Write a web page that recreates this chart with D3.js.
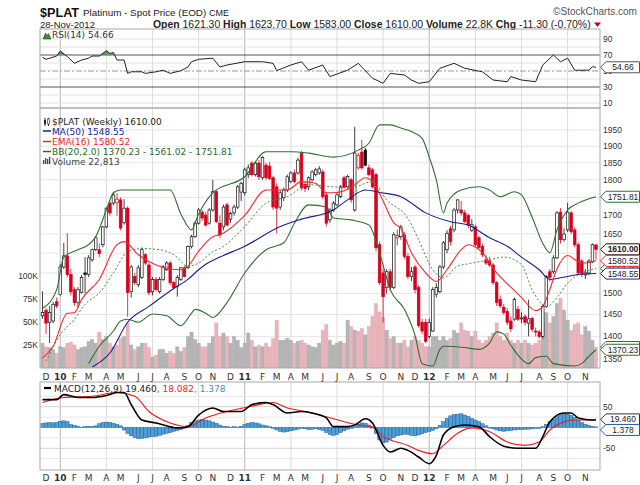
<!DOCTYPE html>
<html><head><meta charset="utf-8">
<script src="https://cdn.jsdelivr.net/npm/d3@7"></script>
<style>body{margin:0;background:#fff}svg{display:block}</style>
</head><body>
<svg id="c" width="640" height="485"></svg>
<script>
// ---------- DATA (weekly, first week = 30-Nov-2009) ----------
const firstWeek = "2009-11-30";
const opens = [1447,1460,1432,1435,1480,1497,1565,1593,1546,1509,1478,1502,1550,1546,1583,1609,1609,1622,1669,1734,1734,1735,1743,1680,1720,1504,1541,1521,1539,1596,1570,1504,1534,1504,1534,1558,1575,1526,1517,1534,1563,1563,1617,1643,1679,1709,1701,1679,1715,1766,1679,1669,1729,1690,1707,1723,1765,1763,1815,1849,1815,1849,1806,1843,1840,1806,1780,1723,1749,1771,1795,1820,1820,1879,1787,1780,1800,1815,1820,1823,1757,1688,1715,1729,1752,1806,1780,1800,1715,1835,1882,1888,1835,1829,1815,1622,1550,1514,1553,1514,1640,1643,1648,1592,1541,1565,1514,1432,1432,1400,1412,1497,1504,1565,1609,1664,1661,1715,1715,1707,1700,1660,1669,1640,1617,1583,1580,1570,1526,1485,1467,1457,1435,1439,1462,1440,1445,1430,1441,1412,1410,1400,1469,1553,1553,1588,1709,1635,1661,1707,1661,1622,1580,1545,1550,1578,1621.3];
const highs = [1505,1465,1470,1480,1490,1572,1627,1652,1560,1515,1515,1545,1590,1595,1612,1645,1625,1672,1722,1740,1766,1763,1750,1745,1725,1570,1550,1570,1615,1600,1575,1540,1540,1540,1570,1580,1580,1530,1545,1565,1568,1620,1648,1685,1720,1715,1710,1720,1800,1770,1700,1730,1735,1710,1730,1785,1795,1835,1845,1855,1855,1858,1870,1850,1852,1812,1790,1770,1778,1815,1825,1830,1865,1885,1795,1810,1828,1835,1840,1830,1765,1720,1740,1762,1785,1812,1815,1805,1960,1880,1919,1895,1845,1835,1820,1630,1560,1560,1560,1655,1662,1675,1655,1600,1565,1570,1520,1440,1440,1440,1515,1525,1570,1632,1660,1672,1720,1745,1740,1715,1705,1690,1675,1645,1625,1595,1590,1575,1530,1495,1475,1465,1445,1490,1470,1455,1450,1485,1445,1420,1415,1475,1545,1560,1595,1712,1720,1665,1735,1712,1668,1628,1585,1560,1585,1625,1623.7];
const lows = [1440,1405,1385,1430,1465,1495,1560,1540,1495,1470,1465,1500,1500,1540,1578,1605,1590,1615,1665,1700,1728,1700,1660,1675,1445,1490,1520,1515,1535,1570,1495,1495,1505,1500,1530,1555,1520,1510,1492,1530,1540,1560,1612,1640,1675,1685,1670,1675,1710,1680,1640,1660,1670,1680,1700,1718,1740,1755,1805,1810,1810,1800,1800,1800,1800,1715,1652,1715,1740,1765,1790,1790,1815,1770,1765,1770,1795,1810,1815,1745,1670,1680,1710,1725,1748,1775,1775,1735,1710,1830,1830,1840,1810,1775,1605,1520,1432,1500,1505,1510,1620,1635,1585,1535,1530,1500,1420,1405,1385,1395,1410,1490,1500,1560,1600,1620,1655,1705,1700,1680,1665,1655,1615,1610,1590,1570,1565,1520,1470,1465,1450,1425,1410,1435,1435,1430,1425,1400,1410,1400,1395,1395,1465,1530,1548,1585,1625,1630,1655,1650,1615,1545,1540,1535,1545,1575,1583];
const closes = [1455,1430,1455,1474,1470,1565,1593,1546,1504,1478,1509,1539,1546,1588,1609,1640,1599,1669,1720,1707,1757,1745,1666,1720,1502,1565,1526,1563,1609,1575,1502,1534,1509,1534,1565,1575,1526,1514,1539,1563,1541,1617,1643,1679,1715,1693,1674,1715,1766,1683,1648,1723,1674,1705,1723,1780,1790,1829,1835,1815,1849,1809,1866,1806,1804,1723,1720,1763,1771,1809,1820,1795,1858,1777,1775,1806,1823,1829,1832,1752,1679,1715,1734,1757,1780,1778,1810,1743,1879,1872,1835,1843,1815,1780,1614,1526,1492,1553,1514,1648,1646,1669,1592,1541,1553,1509,1425,1412,1389,1432,1509,1514,1565,1627,1652,1630,1715,1743,1707,1683,1674,1675,1622,1615,1596,1575,1570,1526,1478,1470,1455,1432,1417,1485,1439,1442,1432,1440,1416,1410,1400,1469,1541,1539,1588,1707,1635,1650,1709,1656,1622,1550,1548,1550,1580,1622,1610];
// volume in thousands
const volumes = [27,23,22,20,16,23,22,27,28,25,20,22,23,29,31,27,39,31,34,27,23,25,32,34,49,
25,20,23,27,27,22,12,14,20,20,16,18,16,23,18,22,34,39,31,27,
23,23,27,34,49,34,38,34,27,34,30,22,27,38,30,23,25,23,27,23,32,52,30,30,32,30,27,29,30,27,25,23,22,27,41,47,30,25,27,29,27,52,45,41,40,43,36,45,56,70,
61,55,41,32,34,27,27,30,23,30,34,30,27,23,23,34,34,30,34,30,32,41,38,49,41,40,34,40,30,27,30,34,38,49,34,30,38,30,27,30,27,30,27,25,27,30,
49,60,49,56,70,76,63,52,41,47,49,36,45,40,30,22.813];

// indicator readings (week index, value)
const maIdx  = [14,19,24,30,37,41,44,46,50,57,67,73,82,86,91,95,101,108,115,120,126,131,135,140,143,146,151,156];
const maVal  = [1333,1363,1432,1469,1512,1534,1558,1572,1590,1618,1670,1690,1715,1743,1771,1764,1752,1707,1683,1674,1640,1618,1590,1558,1534,1538,1546,1548.55];
const emaIdx = [0,3,7,9,11,16,21,23,27,32,39,41,44,48,50,57,63,69,73,77,80,82,87,91,93,96,99,101,104,108,111,114,118,120,124,128,132,135,139,141,143,145,148,151,153,156];
const emaVal = [1352,1378,1453,1454,1485,1534,1622,1630,1596,1570,1558,1567,1605,1643,1648,1700,1771,1771,1795,1790,1763,1763,1777,1806,1795,1740,1680,1665,1601,1550,1529,1558,1609,1622,1601,1550,1515,1490,1459,1469,1510,1560,1594,1578,1575,1580.52];
const bbUpIdx = [0,4,6,10,13,15,18,20,22,27,36,39,42,44,48,57,63,70,75,82,89,92,95,98,101,104,107,109,111,113,114,118,123,126,129,133,135,138,141,143,145,148,151,156];
const bbUpVal = [1464,1509,1590,1609,1622,1643,1715,1763,1771,1771,1771,1704,1661,1704,1763,1809,1883,1883,1879,1867,1888,1909,1966,1966,1956,1945,1924,1867,1800,1707,1734,1771,1780,1771,1752,1766,1757,1695,1626,1601,1661,1715,1734,1751.81];
const bbLoIdx = [13,16,20,22,24,27,31,35,39,42,43,46,48,52,57,63,68,71,75,80,82,87,92,95,98,102,105,107,110,112,113,119,123,126,128,130,132,135,137,139,142,144,150,152,154,156];
const bbLoVal = [1340,1378,1412,1435,1439,1432,1451,1447,1424,1453,1462,1453,1443,1478,1550,1609,1627,1679,1729,1723,1693,1688,1674,1601,1509,1462,1402,1340,1335,1371,1378,1375,1371,1385,1410,1405,1380,1350,1340,1353,1356,1340,1335,1340,1356,1370.23];
const bbMidIdx = [1,5,9,12,16,20,24,28,33,37,41,44,48,50,57,63,69,75,82,87,93,97,103,106,110,113,117,120,126,130,135,138,142,145,148,152,156];
const bbMidVal = [1345,1404,1439,1474,1501,1550,1604,1612,1609,1596,1567,1575,1604,1612,1670,1734,1752,1786,1780,1777,1795,1743,1692,1635,1558,1538,1567,1573,1583,1590,1571,1509,1469,1490,1525,1550,1561.02];
const rsiIdx = [0,1,4,5,7,9,11,13,14,16,18,19,20,21,23,24,25,28,29,32,34,36,39,41,42,44,48,50,52,57,62,65,66,70,73,75,79,81,86,89,93,96,98,102,104,106,109,112,116,119,124,127,131,132,135,139,141,142,144,146,148,150,154,155,156];
const rsiVal = [67,64.6,68.7,75,68,59.6,63.7,66,68.7,68.7,75.4,72,73,63.7,63.7,47,49,49,47,49,51,47,50.4,55,61.6,64.6,66,55,57.5,61.6,61.6,59.6,50.4,57.5,61.6,51,57.5,43,51,59.6,41,34.6,47,45,38.7,34.6,36.6,53.4,59.6,53.4,49,38.7,36.6,43,38.7,36.6,57.5,61.6,70,61.6,66,51,51,55.4,54.66];
const macdIdx = [0,4,6,10,14,18,21,23,25,28,32,38,41,44,48,51,56,59,63,65,69,73,76,80,82,86,88,91,93,96,98,101,103,106,109,111,113,116,119,123,126,130,134,139,141,143,147,149,151,155,156];
const macdVal = [67,67,79,72,72,77,84,84,55,18,11,-1,2,30,47,38.5,38.5,55,60,55,35,38.5,35,23,2,2,6,21,11,-43,-59,-50,-55,-71,-87,-67,-18,2,6,2,-22,-45,-50,-50,-22,14,35,35,23,18,19.46];
const sigIdx = [0,6,14,21,26,30,36,41,46,52,59,65,69,74,80,85,89,93,96,98,103,106,110,113,117,121,126,131,136,140,143,147,150,156];
const sigVal = [60,72,75,84,75,38.5,11,2,23,38.5,51,60,47,38.5,26,14,6,2,-22,-30,-43,-55,-63,-43,-14,-1,-10,-35,-43,-35,-6,14,18,18.082];
const hist = [10,11,12,11,12, 15,16,14, 7,5,3, 1,2,3,2,4, 9,12,13,12,10,7, 4, -6,-14,-20,-24, -27,-26,-25, -23,-22,-21,-19, -16,-14,-12,-9,-7, -5,-2,
5,12,16,18,19,18,16,13,10, 6,3,2,1,2,1,3, 7,10,12,11,9,6,4, 2,-2, -6,-9,-11,-10,-8,-6, -4,-2,-3,-5,-4,-3,-5,-7,
-12,-17,-19,-17,-12,-8, -4,-2,2, 8,11,10,6, 0, -14,-30,-37,-35,-28, -24,-20,-18,-16,-17, -19,-20,-18,-15,-12,-10, -7,-3,
5,14,22,28,31,32, 33,30,26,22, 18,14,9,4,0, -3,-6,-8,-9,-8,-7,-6, -5,-5,-4,-4,-3, -2,-2,2, 8,14,20, 26,31,33,32,29, 24,18,12,8, 5,3,1.378];
const priceTicks = [1350,1400,1450,1500,1550,1600,1650,1700,1750,1800,1850,1900,1950];
const priceTicksHidden = [1550,1600,1750]; // covered by value tags in the reference
const volTicks = [25,50,75,100];
const volTickLabels = ["25K","50K","75K","100K"];
const rsiTicks = [10,30,50,70,90];
const macdTicks = [-50,50];
const monthLetters = ["J","F","M","A","M","J","J","A","S","O","N","D"];

// ---------- LAYOUT ----------
const svg = d3.select("#c");
const L = 40, R = 600;
const rsiP = [29,108], mainP = [108,368], macdP = [382,470];
const F = "'DejaVu Sans', Verdana, sans-serif";
const FA = "'Liberation Sans', Arial, sans-serif";
const FN = "'Liberation Sans Narrow','Arial Narrow','Liberation Sans',Arial,sans-serif";
const RED = "#d8001e", BLK = "#111";

const n = closes.length;
const t0 = d3.timeParse("%Y-%m-%d")(firstWeek);
const dates = d3.range(n).map(i => d3.timeDay.offset(t0, 7*i));
const xs = d3.scaleLinear().domain([0, n-1]).range([42.5, 596]);
const yP = d3.scaleLog().domain([1350,1950]).range([359,130]);
const yV = d3.scaleLinear().domain([0,100]).range([368,276]);
const yR = d3.scaleLinear().domain([30,70]).range([87,55]);
const yM = d3.scaleLinear().domain([-50,50]).range([448.3,406.7]);

const mStarts = [];
for (let i=1;i<n;i++) if (dates[i].getMonth()!==dates[i-1].getMonth()) mStarts.push(i);

const defs = svg.append("defs");
function clip(id, y0, y1){ defs.append("clipPath").attr("id",id).append("rect").attr("x",L).attr("y",y0).attr("width",R-L).attr("height",y1-y0); }
clip("cr", rsiP[0], rsiP[1]); clip("cm", mainP[0], mainP[1]); clip("cd", macdP[0], macdP[1]);
defs.append("clipPath").attr("id","c70").append("rect").attr("x",L).attr("y",rsiP[0]).attr("width",R-L).attr("height",yR(70)-rsiP[0]);

function vgrid(y0,y1){
  mStarts.filter(i=>dates[i].getMonth()%3===0).forEach(i=>{
    svg.append("line").attr("x1",xs(i)).attr("x2",xs(i)).attr("y1",y0).attr("y2",y1)
      .attr("stroke", dates[i].getMonth()===0 ? "#b5b5b5" : "#dcdcdc").attr("stroke-width",1);
  });
}
function hline(y,color,dash){ const l=svg.append("line").attr("x1",L).attr("x2",R).attr("y1",y).attr("y2",y).attr("stroke",color).attr("stroke-width",1); if(dash) l.attr("stroke-dasharray",dash); return l; }

// ---------- HEADER ----------
function fit(sel, w){ const node=sel.node(); const len=node.getComputedTextLength(); if(len>0){ const fs=parseFloat(sel.attr("font-size")); sel.attr("font-size", fs*w/len); } }
const h1 = svg.append("text").attr("x",40).attr("y",17).attr("font-family",FN).attr("font-size",16).attr("font-weight","bold").attr("fill","#111").text("$PLAT");
fit(h1, 39);
const h2 = svg.append("text").attr("x",83).attr("y",16).attr("font-family",FN).attr("font-size",11).attr("fill","#222");
h2.append("tspan").text("Platinum  - Spot Price (EOD) ");
h2.append("tspan").attr("font-size",9).text("CME");
fit(h2, 144);
const h3 = svg.append("text").attr("x",637).attr("y",15).attr("text-anchor","end").attr("font-family",FA).attr("font-size",11).attr("fill","#555").text("\u00A9StockCharts.com");
fit(h3, 84);
const d1 = svg.append("text").attr("x",40).attr("y",28).attr("font-family",FN).attr("font-size",11).attr("fill","#222").text("28-Nov-2012");
fit(d1, 55);
const q = svg.append("text").attr("x",153).attr("y",28).attr("font-family",FN).attr("font-size",11).attr("fill","#222");
[["Open"," 1621.30  "],["High"," 1623.70  "],["Low"," 1583.00  "],["Close"," 1610.00  "],["Volume"," 22.8K  "],["Chg"," -11.30 (-0.70%)"]].forEach(([a,b])=>{
  q.append("tspan").attr("font-weight","bold").text(a);
  q.append("tspan").text(b);
});
fit(q, 438);
svg.append("path").attr("d","M594,22.5 L601,22.5 L597.5,27 Z").attr("fill","#c00020");

// ---------- RSI PANEL ----------
vgrid(rsiP[0], rsiP[1]);
[10,20,40,60,80,90].forEach(v=>hline(yR(v),"#e2e2e2"));
hline(yR(70),"#555"); hline(yR(30),"#555");
hline(yR(50),"#999","6,2,2,2");
const rsiPts = rsiIdx.map((d,k)=>[d, rsiVal[k]]);
const rsiLine = d3.line().x(d=>xs(d[0])).y(d=>yR(d[1]));
const rsiArea = d3.area().x(d=>xs(d[0])).y0(yR(70)).y1(d=>yR(d[1]));
svg.append("path").attr("d",rsiArea(rsiPts)).attr("fill","#5b9a5b").attr("clip-path","url(#c70)");
svg.append("path").attr("d",rsiLine(rsiPts)).attr("fill","none").attr("stroke","#222").attr("stroke-width",1).attr("clip-path","url(#cr)");
svg.append("rect").attr("x",L).attr("y",rsiP[0]).attr("width",R-L).attr("height",rsiP[1]-rsiP[0]).attr("fill","none").attr("stroke","#a8a8a8");
svg.append("path").attr("d","M43,39 L45.5,33 L47,35.5 L48.5,33.5 L51,39 Z").attr("fill","#3d8a3d").attr("stroke","#1f5a1f").attr("stroke-width",0.6);
svg.append("text").attr("x",52).attr("y",38).attr("font-family",F).attr("font-size",9).attr("fill","#333").text("RSI(14) 54.66");
rsiTicks.forEach(v=>svg.append("text").attr("x",603).attr("y",yR(v)+3).attr("font-family",FA).attr("font-size",8.5).attr("fill","#333").text(v));

// ---------- MAIN PANEL ----------
vgrid(mainP[0], mainP[1]);
priceTicks.forEach(p=>hline(yP(p),"#e4e4e4"));
const gm = svg.append("g").attr("clip-path","url(#cm)");
const up = closes.map((c,i)=> i===0 ? c>=opens[i] : c>=closes[i-1]);
gm.selectAll(".v").data(volumes).enter().append("rect")
  .attr("x",(d,i)=>xs(i)-1.6).attr("width",3.2)
  .attr("y",d=>yV(d)).attr("height",d=>yV(0)-yV(d))
  .attr("fill",(d,i)=>up[i]?"#b5b5b5":"#ebb3ba").attr("stroke",(d,i)=>up[i]?"#a0a0a0":"#dba0a8").attr("stroke-width",0.4);
closes.forEach((c,i)=>{
  const col = up[i] ? BLK : RED;
  const filled = c < opens[i];
  gm.append("line").attr("x1",xs(i)).attr("x2",xs(i)).attr("y1",yP(highs[i])).attr("y2",yP(lows[i])).attr("stroke",col).attr("stroke-width",0.8);
  const yt = yP(Math.max(c,opens[i])), yb = yP(Math.min(c,opens[i]));
  gm.append("rect").attr("x",xs(i)-1.3).attr("width",2.6).attr("y",yt).attr("height",Math.max(1,yb-yt))
    .attr("fill",filled?col:"#fff").attr("stroke",col).attr("stroke-width",0.7);
});
function series(idx,val){ return idx.map((d,k)=>[d,val[k]]); }
const pl = d3.line().x(d=>xs(d[0])).y(d=>yP(d[1])).curve(d3.curveMonotoneX);
gm.append("path").attr("d",pl(series(bbUpIdx,bbUpVal))).attr("fill","none").attr("stroke","#2f6f2f").attr("stroke-width",1.1);
gm.append("path").attr("d",pl(series(bbLoIdx,bbLoVal))).attr("fill","none").attr("stroke","#2f6f2f").attr("stroke-width",1.1);
gm.append("path").attr("d",pl(series(bbMidIdx,bbMidVal))).attr("fill","none").attr("stroke","#3f923f").attr("stroke-width",1).attr("stroke-dasharray","2,2");
gm.append("path").attr("d",pl(series(maIdx,maVal))).attr("fill","none").attr("stroke","#1d1d8f").attr("stroke-width",1.1);
gm.append("path").attr("d",pl(series(emaIdx,emaVal))).attr("fill","none").attr("stroke","#f22a2e").attr("stroke-width",1.1);
svg.append("rect").attr("x",L).attr("y",mainP[0]).attr("width",R-L).attr("height",mainP[1]-mainP[0]).attr("fill","none").attr("stroke","#a8a8a8");
const lg = svg.append("g").attr("font-family",F).attr("font-size",9);
lg.append("line").attr("x1",45).attr("x2",45).attr("y1",118).attr("y2",126).attr("stroke","#222");
lg.append("rect").attr("x",44).attr("y",120).attr("width",2).attr("height",4).attr("fill","#222");
lg.append("line").attr("x1",48.5).attr("x2",48.5).attr("y1",118).attr("y2",126).attr("stroke","#222");
lg.append("rect").attr("x",47.5).attr("y",119).attr("width",2).attr("height",5).attr("fill","#fff").attr("stroke","#222").attr("stroke-width",0.6);
lg.append("text").attr("x",52).attr("y",125).attr("fill","#222").text("$PLAT (Weekly) 1610.00");
[["MA(50) 1548.55","#1d1d8f",134.5],["EMA(16) 1580.52","#e8262b",145],["BB(20,2.0) 1370.23 - 1561.02 - 1751.81","#2a6b2a",155]].forEach(([t,c,y])=>{
  lg.append("line").attr("x1",43).attr("x2",51).attr("y1",y-3.5).attr("y2",y-3.5).attr("stroke",c).attr("stroke-width",1.5);
  lg.append("text").attr("x",52).attr("y",y).attr("fill",c).text(t);
});
[[43,4],[45,6],[47,5],[49,7]].forEach(([x,h])=>lg.append("rect").attr("x",x).attr("y",164-h).attr("width",1.3).attr("height",h).attr("fill","#444"));
lg.append("text").attr("x",52).attr("y",165).attr("fill","#444").text("Volume 22,813");
priceTicks.filter(p=>!priceTicksHidden.includes(p)).forEach(p=>svg.append("text").attr("x",603).attr("y",yP(p)+3).attr("font-family",FA).attr("font-size",8.5).attr("fill","#333").text(p));
volTicks.forEach((v,k)=>svg.append("text").attr("x",38).attr("y",yV(v)+3).attr("text-anchor","end").attr("font-family",FA).attr("font-size",8.5).attr("fill","#333").text(volTickLabels[k]));

// ---------- MACD PANEL ----------
vgrid(macdP[0], macdP[1]);
[-75,-50,-25,25,50,75].forEach(v=>hline(yM(v), Math.abs(v)===50 ? "#d0d0d0":"#e6e6e6"));
const gd = svg.append("g").attr("clip-path","url(#cd)");
gd.selectAll(".h").data(hist).enter().append("rect")
  .attr("x",(d,i)=>xs(i)-1.75).attr("width",3.5)
  .attr("y",d=>Math.min(yM(d),yM(0))).attr("height",d=>Math.max(0.6,Math.abs(yM(d)-yM(0))))
  .attr("fill","#4f9fd6").attr("stroke","#1f5c9e").attr("stroke-width",0.5);
const ml = d3.line().x(d=>xs(d[0])).y(d=>yM(d[1])).curve(d3.curveMonotoneX);
gd.append("path").attr("d",ml(series(sigIdx,sigVal))).attr("fill","none").attr("stroke","#f01818").attr("stroke-width",1.1);
gd.append("path").attr("d",ml(series(macdIdx,macdVal))).attr("fill","none").attr("stroke","#000").attr("stroke-width",1.6);
svg.append("rect").attr("x",L).attr("y",macdP[0]).attr("width",R-L).attr("height",macdP[1]-macdP[0]).attr("fill","none").attr("stroke","#a8a8a8");
svg.append("line").attr("x1",44).attr("x2",51).attr("y1",388).attr("y2",388).attr("stroke","#000").attr("stroke-width",2.2);
const mt = svg.append("text").attr("x",54).attr("y",391.5).attr("font-family",F).attr("font-size",9);
mt.append("tspan").attr("fill","#222").text("MACD(12,26,9) 19.460");
mt.append("tspan").attr("fill","#e8262b").text(", 18.082");
mt.append("tspan").attr("fill","#3b8fd0").text(", 1.378");
macdTicks.forEach(v=>svg.append("text").attr("x",603).attr("y",yM(v)+3).attr("font-family",FA).attr("font-size",8.5).attr("fill","#333").text(v));

// ---------- X AXIS LABELS ----------
[379.5, 480.5].forEach(y=>{
  mStarts.forEach(i=>{
    const m = dates[i].getMonth();
    svg.append("text").attr("x",xs(i)).attr("y",y).attr("text-anchor","middle").attr("font-family",F)
      .attr("font-size",9).attr("font-weight",m===0?"bold":"normal").attr("fill","#333")
      .text(m===0 ? d3.timeFormat("%y")(dates[i]) : monthLetters[m]);
  });
});

// ---------- VALUE TAGS ----------
function tag(y, txt, col, bold){
  svg.append("path").attr("d",`M600.5,${y} L606,${y-5.5} L639.5,${y-5.5} L639.5,${y+5.5} L606,${y+5.5} Z`)
    .attr("fill","#fff").attr("stroke",col).attr("stroke-width",1);
  svg.append("text").attr("x",623).attr("y",y+3).attr("text-anchor","middle").attr("font-family",FA)
    .attr("font-size",8.5).attr("font-weight",bold?"bold":"normal").attr("fill","#222").text(txt);
}
tag(yR(54.66),"54.66","#555",false);
tag(yP(1751.81),"1751.81","#2f6f2f",false);
tag(yP(1610),"1610.00","#111",true);
tag(yP(1561.02),"1561.02","#2f6f2f",false);
tag(yP(1580.52),"1580.52","#e8262b",false);
tag(yP(1548.55),"1548.55","#1d1d8f",false);
tag(yV(22.813),"22813","#555",false);
tag(yP(1370.23),"1370.23","#2f6f2f",false);
tag(yM(19.46),"19.460","#333",false);
tag(yM(1.378)+3,"1.378","#1f5c9e",false);
</script>
</body></html>
